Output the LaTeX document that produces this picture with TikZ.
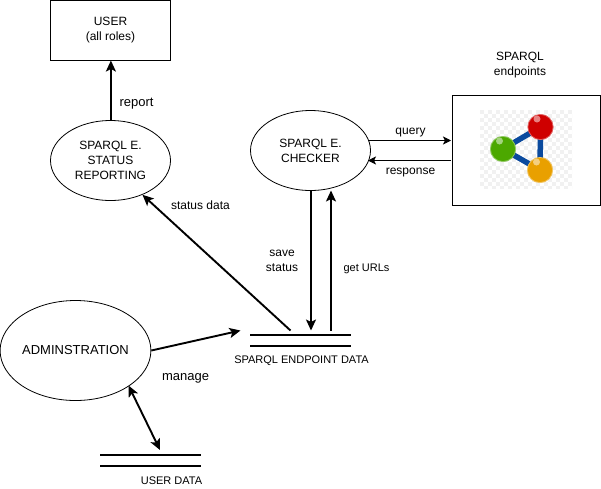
\documentclass[tikz,border=0pt]{standalone}
\usepackage{fontspec}
\setmainfont{Liberation Sans}
\usetikzlibrary{arrows.meta,shapes.geometric}
\definecolor{ink}{HTML}{000000}
\definecolor{chk}{HTML}{F1F1F1}
\definecolor{bondblue}{HTML}{0B4A9E}
\definecolor{ballred}{HTML}{CF0000}
\definecolor{ballgreen}{HTML}{4CA800}
\definecolor{ballorange}{HTML}{E9A000}
\tikzset{
  proc/.style={draw=ink,ellipse,minimum width=120pt,minimum height=80pt,inner sep=0pt,align=center,font=\fontsize{12}{15}\selectfont,line width=.8pt},
  boxn/.style={draw=ink,rectangle,inner sep=0pt,align=center,font=\fontsize{12}{15}\selectfont,line width=.9pt},
  lab/.style={inner sep=0pt,align=center,font=\fontsize{12}{15}\selectfont},
  labs/.style={inner sep=0pt,align=center,font=\fontsize{11}{13}\selectfont},
  flow/.style={line width=1.9pt,-{Stealth[length=11pt,width=10pt,inset=2.5pt]}},
  flowboth/.style={line width=1.9pt,{Stealth[length=11pt,width=10pt,inset=2.5pt]}-{Stealth[length=11pt,width=10pt,inset=2.5pt]}},
  thinflow/.style={line width=.8pt,-{Stealth[length=8pt,width=8pt,inset=2pt]}},
  store/.style={line width=1.9pt},
  bond/.style={bondblue,line width=5.5pt},
}
\newcommand{\ball}[3]{%
  \fill[#3] (#1,#2) circle (13);
  \fill[white,opacity=.5] (#1-3.5,#2-8) circle (3.5);
  \draw[white,opacity=.4,line width=.7pt] (#1,#2) circle (12.6);
}
\begin{document}
\begin{tikzpicture}[x=1pt,y=-1pt]
\useasboundingbox (0,0) rectangle (601,488);
\fill[white] (0,0) rectangle (601,488);

\node[boxn,minimum width=120pt,minimum height=60pt] (user) at (110.5,30.5) {USER\\(all roles)};
\node[proc] (report) at (110.5,160.5) {SPARQL E.\\STATUS\\REPORTING};
\node[proc] (checker) at (310.5,150.5) {SPARQL E.\\CHECKER};
\node[proc,minimum width=150pt,minimum height=100pt,font=\fontsize{13}{15}\selectfont] (admin) at (75.5,350.5) {\raisebox{-1pt}{ADMINSTRATION}};
\node[boxn,minimum width=148pt,minimum height=110pt] (endpoints) at (526.5,150.5) {};
\node[lab] (endlabel) at (520,65.5) {SPARQL\\endpoints};

% endpoint icon
\begin{scope}
  \clip (480,110) rectangle (572,188);
  \fill[white] (480,110) rectangle (572,188);
  \foreach \i in {0,...,23}{\foreach \j in {0,...,19}{
    \pgfmathparse{int(mod(\i+\j,2))}
    \ifnum\pgfmathresult=0 \fill[chk] (480+\i*4,110+\j*4) rectangle +(4,4);\fi
  }}
\end{scope}
\draw[bond] (503,149) -- (540.5,127) -- (540,170) -- cycle;
\ball{540.5}{127}{ballred}
\ball{503}{149}{ballgreen}
\ball{540}{170}{ballorange}

% data stores
\coordinate (sa1) at (250,335); \coordinate (sa2) at (351,335);
\coordinate (sb1) at (250,346); \coordinate (sb2) at (351,346);
\coordinate (ua1) at (100,455); \coordinate (ua2) at (201,455);
\coordinate (ub1) at (100,466); \coordinate (ub2) at (201,466);
\draw[store] (sa1) -- (sa2);
\draw[store] (sb1) -- (sb2);
\draw[store] (ua1) -- (ua2);
\draw[store] (ub1) -- (ub2);
\node[labs] (sparqldata) at (301.5,361) {SPARQL ENDPOINT DATA};
\node[labs] (userdata) at (171.5,481) {USER DATA};

% connectors
\coordinate (repa) at (110.9,120.5); \coordinate (repb) at (110.9,60.5);
\draw[flow] (repa) -- (repb);
\coordinate (sdstart) at (290.5,330.5);
\draw[flow] (sdstart) -- (report.-47);
\coordinate (savea) at (311,190.5); \coordinate (saveb) at (311,330.5);
\coordinate (geta) at (331,330.5); \coordinate (getb) at (331,190.5);
\draw[flow] (savea) -- (saveb);
\draw[flow] (geta) -- (getb);
\coordinate (qa) at (368,140.5); \coordinate (qb) at (451,140.5);
\coordinate (ra) at (451,160.5); \coordinate (rb) at (368,160.5);
\draw[thinflow] (qa) -- (qb);
\draw[thinflow] (ra) -- (rb);
\coordinate (mb) at (240.5,330.5);
\draw[flow] (admin.east) -- (mb);
\coordinate (ud) at (160,450);
\coordinate (ad) at (128.5,385.5);
\draw[flowboth] (ad) -- (ud);

% labels
\node[lab,font=\fontsize{13}{15}\selectfont] (lreport) at (136.5,103.5) {report};
\node[lab] (lstatus) at (200.5,205) {status data};
\node[lab] (lquery) at (410.5,132.5) {query};
\node[lab] (lresp) at (410.5,172.5) {response};
\node[lab] (lsave) at (282,261) {save\\ status};
\node[labs] (lget) at (366.5,269) {get URLs};
\node[lab,font=\fontsize{13}{15}\selectfont] (lmanage) at (185.5,378) {manage};
\end{tikzpicture}
\end{document}
